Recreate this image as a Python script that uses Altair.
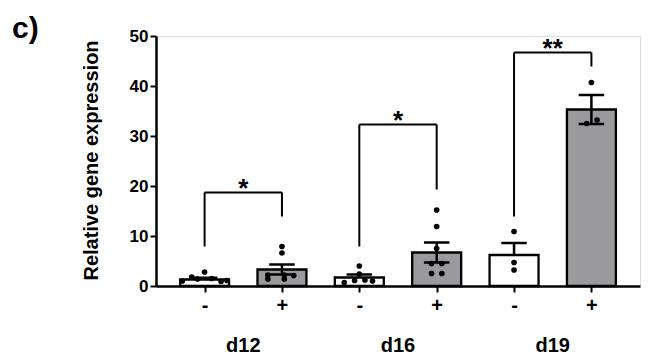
import altair as alt
import pandas as pd

# ---- data ----
categories = ["d12 -", "d12 +", "d16 -", "d16 +", "d19 -", "d19 +"]
groups = ["d12", "d12", "d16", "d16", "d19", "d19"]
treatment = ["-", "+", "-", "+", "-", "+"]
means = [1.3, 3.3, 1.7, 6.7, 6.2, 35.3]
sems = [0.35, 1.0, 0.6, 2.0, 2.4, 2.9]

# individual replicates (value, horizontal spread within the bar, -1..1)
pts_d12_neg = [1.0, 1.8, 1.4, 2.8, 1.5, 0.9, 1.1]
spr_d12_neg = [-0.95, -0.55, -0.3, 0.0, 0.3, 0.7, 0.95]
pts_d12_pos = [7.9, 6.6, 2.2, 1.4, 2.2, 1.4, 2.1]
spr_d12_pos = [0.0, 0.0, -0.6, -0.6, 0.1, 0.1, 0.5]
pts_d16_neg = [4.0, 2.4, 0.7, 1.1, 1.2, 1.0]
spr_d16_neg = [0.0, 0.0, -0.64, -0.2, 0.24, 0.56]
pts_d16_pos = [15.2, 11.9, 7.5, 4.5, 4.5, 2.5, 2.5]
spr_d16_pos = [0.0, 0.0, 0.0, -0.22, 0.22, -0.22, 0.22]
pts_d19_neg = [10.9, 4.7, 3.2]
spr_d19_neg = [0.0, 0.0, 0.0]
pts_d19_pos = [40.7, 32.5, 33.2]
spr_d19_pos = [0.0, -0.2, 0.24]

# significance brackets
br_left = ["d12 -", "d16 -", "d19 -"]
br_right = ["d12 +", "d16 +", "d19 +"]
br_top = [18.7, 32.3, 46.7]
br_left_bottom = [7.9, 7.9, 13.9]
br_right_bottom = [13.9, 19.3, 43.9]
br_label = ["*", "*", "**"]
group_names = ["d12", "d16", "d19"]

# ---- tables ----
idx = {c: i for i, c in enumerate(categories)}
HALF = 0.3165  # half bar width, in category steps

bars = pd.DataFrame({
    "cat": categories, "pos": [idx[c] for c in categories], "group": groups,
    "treat": treatment, "mean": means, "sem": sems,
})

pt_rows = []
for cat, vals, sprs in [
    ("d12 -", pts_d12_neg, spr_d12_neg), ("d12 +", pts_d12_pos, spr_d12_pos),
    ("d16 -", pts_d16_neg, spr_d16_neg), ("d16 +", pts_d16_pos, spr_d16_pos),
    ("d19 -", pts_d19_neg, spr_d19_neg), ("d19 +", pts_d19_pos, spr_d19_pos),
]:
    for v, s in zip(vals, sprs):
        pt_rows.append({"cat": cat, "pos": idx[cat], "value": v, "spread": s})
points = pd.DataFrame(pt_rows)

brackets = pd.DataFrame({
    "lpos": [idx[c] for c in br_left], "rpos": [idx[c] for c in br_right],
    "top": br_top, "lb": br_left_bottom, "rb": br_right_bottom,
    "label": br_label, "group": group_names,
})

FONT = "Liberation Sans"
xscale = alt.Scale(domain=[-0.5635, len(categories) - 1 + 0.5635], nice=False, zero=False)
yscale = alt.Scale(domain=[0, 50], nice=False)

label_js = "[" + ",".join("'%s'" % t for t in treatment) + "][datum.value]"
x_axis = alt.Axis(
    title=None, values=list(range(len(categories))), labelExpr=label_js,
    labelFont=FONT, labelFontSize=20, labelFontWeight="bold", labelColor="black",
    labelPadding=3, labelAngle=0, domainColor="black", domainWidth=2.5,
    tickColor="black", tickWidth=2, tickSize=6, grid=False, labelFlush=False,
)
y_axis = alt.Axis(
    title="Relative gene expression", values=[0, 10, 20, 30, 40, 50],
    labelFont=FONT, labelFontSize=17, labelFontWeight="bold", labelColor="black",
    labelPadding=2, domainColor="black", domainWidth=2.5,
    tickColor="black", tickWidth=2, tickSize=6, grid=False,
    titleFont=FONT, titleFontSize=20, titleFontWeight="bold", titleColor="black",
    titleAngle=-90, titleX=-55, titleY=124, titleAlign="center", titleBaseline="bottom",
)

base = alt.Chart(bars).transform_calculate(
    x0="datum.pos - %f" % HALF, x1="datum.pos + %f" % HALF,
    c0="datum.pos - %f" % (HALF * 0.52), c1="datum.pos + %f" % (HALF * 0.52),
    high="datum.mean + datum.sem",
    low="datum.treat == '+' ? datum.mean - datum.sem : datum.mean",
    zero="0",
)

bar_layer = base.mark_bar(stroke="black", strokeWidth=2.3, orient="vertical").encode(
    x=alt.X("x0:Q", scale=xscale, axis=x_axis), x2="x1:Q",
    y=alt.Y("mean:Q", scale=yscale, axis=y_axis), y2="zero:Q",
    fill=alt.Fill("treat:N", scale=alt.Scale(domain=["-", "+"], range=["white", "#9a9a9c"]), legend=None),
)
err_rule = base.mark_rule(color="black", strokeWidth=2.5).encode(
    x=alt.X("pos:Q", scale=xscale),
    y=alt.Y("low:Q", scale=yscale), y2="high:Q",
)
cap_hi = base.mark_rule(color="black", strokeWidth=2.5).encode(
    x=alt.X("c0:Q", scale=xscale), x2="c1:Q",
    y=alt.Y("high:Q", scale=yscale),
)
cap_lo = base.transform_filter("datum.treat == '+'").mark_rule(color="black", strokeWidth=2.5).encode(
    x=alt.X("c0:Q", scale=xscale), x2="c1:Q",
    y=alt.Y("low:Q", scale=yscale),
)
pt_layer = alt.Chart(points).transform_calculate(
    px="datum.pos + datum.spread * %f" % (HALF * 0.96)
).mark_circle(color="black", opacity=1, size=32).encode(
    x=alt.X("px:Q", scale=xscale),
    y=alt.Y("value:Q", scale=yscale),
)

bb = alt.Chart(brackets).transform_calculate(mid="(datum.lpos + datum.rpos) / 2")
br_h = bb.mark_rule(color="black", strokeWidth=2).encode(
    x=alt.X("lpos:Q", scale=xscale), x2="rpos:Q",
    y=alt.Y("top:Q", scale=yscale),
)
br_l = bb.mark_rule(color="black", strokeWidth=2).encode(
    x=alt.X("lpos:Q", scale=xscale),
    y=alt.Y("lb:Q", scale=yscale), y2="top:Q",
)
br_r = bb.mark_rule(color="black", strokeWidth=2).encode(
    x=alt.X("rpos:Q", scale=xscale),
    y=alt.Y("rb:Q", scale=yscale), y2="top:Q",
)
stars = bb.mark_text(font=FONT, fontSize=26, fontWeight="bold", color="black",
                     baseline="alphabetic", dy=4).encode(
    x=alt.X("mid:Q", scale=xscale),
    y=alt.Y("top:Q", scale=yscale),
    text="label:N",
)
glabels = bb.mark_text(font=FONT, fontSize=20, fontWeight="bold", color="black",
                       baseline="alphabetic").encode(
    x=alt.X("mid:Q", scale=xscale),
    y=alt.value(316),
    text="group:N",
)
panel_label = alt.Chart(pd.DataFrame({"t": ["c)"]})).mark_text(
    font=FONT, fontSize=30, fontWeight="bold", color="black",
    align="left", baseline="alphabetic",
).encode(x=alt.value(-144), y=alt.value(2), text="t:N")

chart = alt.layer(
    bar_layer, err_rule, cap_hi, cap_lo, pt_layer, br_h, br_l, br_r, stars, glabels, panel_label
).properties(
    width=484, height=250,
    autosize=alt.AutoSizeParams(type="none"),
    padding={"left": 148, "top": 28, "right": 2, "bottom": 69},
).configure_view(stroke=None).configure(background="white")

chart.save("out.html", embed_options={"renderer": "svg", "actions": False})
